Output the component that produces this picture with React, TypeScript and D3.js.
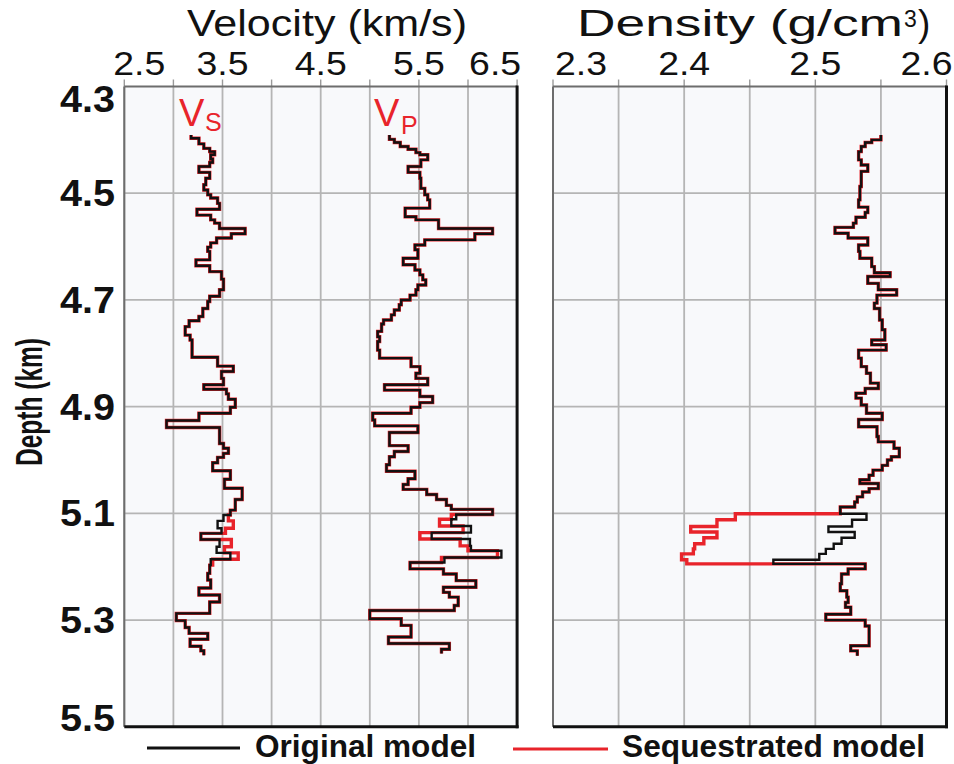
import React from 'react';
import * as d3 from 'd3';

// Depth axis (km)
const depthTicks = [4.3, 4.5, 4.7, 4.9, 5.1, 5.3, 5.5];
const velocityTicks = [2.5, 3.5, 4.5, 5.5, 6.5];
const velocityGrid = [2.5, 3.0, 3.5, 4.0, 4.5, 5.0, 5.5, 6.0, 6.5];
const densityTicks = [2.3, 2.4, 2.5, 2.6];
const densityGrid = [2.3, 2.35, 2.4, 2.45, 2.5, 2.55, 2.6];

// Shear velocity: layer tops (km), last entry is the base of the log
const vsDepth = [
  4.391, 4.397, 4.4075, 4.416, 4.422, 4.428, 4.436, 4.4425, 4.45, 4.461,
  4.472, 4.484, 4.494, 4.503, 4.509, 4.519, 4.53, 4.541, 4.55, 4.556,
  4.566, 4.576, 4.584, 4.593, 4.601, 4.609, 4.625, 4.636, 4.647, 4.661,
  4.681, 4.693, 4.703, 4.716, 4.731, 4.739, 4.75, 4.766, 4.775, 4.8075,
  4.824, 4.834, 4.847, 4.859, 4.8675, 4.876, 4.886, 4.901,
  4.9125, 4.926, 4.939, 4.969, 4.978, 4.9875, 4.995, 5.005, 5.02, 5.036,
  5.053, 5.074, 5.094, 5.103, 5.114, 5.128, 5.1375, 5.149, 5.1625, 5.174,
  5.186, 5.197, 5.2125, 5.225, 5.24, 5.253, 5.266, 5.2875, 5.301, 5.314,
  5.325, 5.336, 5.349, 5.3575, 5.366,
];
const vsOriginal = [
  3.18, 3.26, 3.31, 3.37, 3.42, 3.38, 3.40, 3.37, 3.26, 3.37,
  3.33, 3.31, 3.35, 3.38, 3.45, 3.47, 3.24, 3.38, 3.42, 3.47,
  3.73, 3.59, 3.44, 3.38, 3.35, 3.37, 3.23, 3.37, 3.49, 3.51,
  3.47, 3.37, 3.35, 3.30, 3.26, 3.16, 3.12, 3.17, 3.19, 3.45,
  3.61, 3.49, 3.51, 3.31, 3.54, 3.56, 3.63, 3.58,
  3.26, 2.93, 3.47, 3.51, 3.56, 3.51, 3.45, 3.40, 3.58, 3.52,
  3.70, 3.63, 3.58, 3.51, 3.45, 3.49, 3.28, 3.47, 3.44, 3.58,
  3.38, 3.37, 3.35, 3.38, 3.26, 3.47, 3.37, 3.03, 3.12, 3.16,
  3.35, 3.17, 3.28, 3.31,
];
const vsSequestrated = [
  3.18, 3.26, 3.31, 3.37, 3.42, 3.38, 3.40, 3.37, 3.26, 3.37,
  3.33, 3.31, 3.35, 3.38, 3.45, 3.47, 3.24, 3.38, 3.42, 3.47,
  3.73, 3.59, 3.44, 3.38, 3.35, 3.37, 3.23, 3.37, 3.49, 3.51,
  3.47, 3.37, 3.35, 3.30, 3.26, 3.16, 3.12, 3.17, 3.19, 3.45,
  3.61, 3.49, 3.51, 3.31, 3.54, 3.56, 3.63, 3.58,
  3.26, 2.93, 3.47, 3.51, 3.56, 3.51, 3.45, 3.40, 3.58, 3.52,
  3.70, 3.63, 3.58, 3.56, 3.61, 3.53, 3.28, 3.59, 3.52, 3.66,
  3.40, 3.37, 3.35, 3.38, 3.26, 3.47, 3.37, 3.03, 3.12, 3.16,
  3.35, 3.17, 3.28, 3.31,
];

// Compressional velocity
const vpDepth = [
  4.391, 4.399, 4.405, 4.4125, 4.4175, 4.424, 4.428, 4.4375, 4.45, 4.461,
  4.472, 4.491, 4.503, 4.5125, 4.528, 4.544, 4.55, 4.566, 4.576, 4.5875,
  4.597, 4.606, 4.622, 4.634, 4.644, 4.653, 4.6625, 4.672, 4.681, 4.691,
  4.70, 4.709, 4.719, 4.728, 4.7375, 4.745, 4.759, 4.769, 4.778, 4.794,
  4.809, 4.825, 4.8375, 4.847, 4.859, 4.869, 4.881, 4.8925, 4.901, 4.9125,
  4.925, 4.936, 4.9485, 4.973, 4.984, 4.994, 5.009, 5.021, 5.035, 5.046,
  5.055, 5.0646, 5.074, 5.085, 5.0925, 5.102, 5.111, 5.1236, 5.136, 5.148,
  5.161, 5.17, 5.1826, 5.192, 5.204, 5.2137, 5.226, 5.2385, 5.248, 5.257,
  5.2727, 5.282, 5.2975, 5.31, 5.3317, 5.344, 5.3546, 5.3627,
];
const vpOriginal = [
  5.20, 5.25, 5.31, 5.39, 5.47, 5.51, 5.59, 5.52, 5.39, 5.51,
  5.52, 5.56, 5.59, 5.61, 5.36, 5.47, 5.70, 6.25, 6.07, 5.56,
  5.46, 5.49, 5.34, 5.46, 5.51, 5.54, 5.57, 5.49, 5.47, 5.41,
  5.32, 5.30, 5.25, 5.22, 5.14, 5.12, 5.08, 5.10, 5.08, 5.10,
  5.42, 5.51, 5.47, 5.59, 5.15, 5.51, 5.64, 5.51, 5.42, 5.03,
  5.05, 5.49, 5.20, 5.39, 5.25, 5.20, 5.17, 5.46, 5.39, 5.34,
  5.58, 5.68, 5.78, 5.83, 6.25, 5.88, 5.83, 6.03, 5.63, 6.02,
  6.03, 6.34, 5.76, 5.41, 5.75, 5.88, 6.08, 5.75, 5.81, 5.90,
  5.86, 5.00, 5.32, 5.42, 5.19, 5.81, 5.73,
];
const vpSequestrated = [
  5.20, 5.25, 5.31, 5.39, 5.47, 5.51, 5.59, 5.52, 5.39, 5.51,
  5.52, 5.56, 5.59, 5.61, 5.36, 5.47, 5.70, 6.25, 6.07, 5.56,
  5.46, 5.49, 5.34, 5.46, 5.51, 5.54, 5.57, 5.49, 5.47, 5.41,
  5.32, 5.30, 5.25, 5.22, 5.14, 5.12, 5.08, 5.10, 5.08, 5.10,
  5.42, 5.51, 5.47, 5.59, 5.15, 5.51, 5.64, 5.51, 5.42, 5.03,
  5.05, 5.49, 5.20, 5.39, 5.25, 5.20, 5.17, 5.46, 5.39, 5.34,
  5.58, 5.68, 5.78, 5.83, 6.25, 5.83, 5.71, 5.95, 5.51, 5.92,
  6.00, 6.30, 5.73, 5.41, 5.75, 5.88, 6.08, 5.75, 5.81, 5.90,
  5.86, 5.00, 5.32, 5.42, 5.19, 5.81, 5.73,
];

// Bulk density (g/cm3)
const rhoDepth = [
  4.391, 4.40, 4.405, 4.4125, 4.422, 4.4375, 4.447, 4.459, 4.4875, 4.5125,
  4.526, 4.536, 4.545, 4.556, 4.564, 4.575, 4.584, 4.597, 4.609, 4.622,
  4.6375, 4.649, 4.656, 4.669, 4.681, 4.691, 4.706, 4.716, 4.7375, 4.756,
  4.775, 4.784, 4.794, 4.809, 4.825, 4.8375, 4.856, 4.866, 4.875, 4.884,
  4.897, 4.9125, 4.924, 4.9376, 4.956, 4.966, 4.978, 4.994, 5.0, 5.01,
  5.019, 5.0285, 5.037, 5.044, 5.0536, 5.06, 5.069, 5.0787, 5.088, 5.1006,
  5.112, 5.1245, 5.135, 5.1458, 5.157, 5.1665, 5.176, 5.187, 5.1947, 5.204,
  5.2135, 5.232, 5.245, 5.257, 5.267, 5.276, 5.289, 5.30, 5.311, 5.348,
  5.3577, 5.367,
];
const rhoOriginal = [
  2.550, 2.543, 2.538, 2.535, 2.533, 2.535, 2.540, 2.535, 2.534, 2.533,
  2.540, 2.538, 2.531, 2.529, 2.515, 2.525, 2.540, 2.533, 2.534, 2.543,
  2.545, 2.557, 2.540, 2.548, 2.562, 2.547, 2.545, 2.549, 2.551, 2.553,
  2.543, 2.554, 2.533, 2.535, 2.539, 2.542, 2.548, 2.538, 2.531, 2.535,
  2.539, 2.551, 2.533, 2.547, 2.548, 2.560, 2.564, 2.558, 2.555, 2.551,
  2.544, 2.541, 2.534, 2.548, 2.541, 2.536, 2.532, 2.530, 2.519, 2.539,
  2.528, 2.510, 2.530, 2.520, 2.514, 2.508, 2.503, 2.468, 2.538, 2.525,
  2.520, 2.519, 2.524, 2.525, 2.523, 2.527, 2.508, 2.538, 2.541, 2.527,
  2.532,
];
const rhoSequestrated = [
  2.550, 2.543, 2.538, 2.535, 2.533, 2.535, 2.540, 2.535, 2.534, 2.533,
  2.540, 2.538, 2.531, 2.529, 2.515, 2.525, 2.540, 2.533, 2.534, 2.543,
  2.545, 2.557, 2.540, 2.548, 2.562, 2.547, 2.545, 2.549, 2.551, 2.553,
  2.543, 2.554, 2.533, 2.535, 2.539, 2.542, 2.548, 2.538, 2.531, 2.535,
  2.539, 2.551, 2.533, 2.547, 2.548, 2.560, 2.564, 2.558, 2.555, 2.551,
  2.544, 2.541, 2.534, 2.548, 2.541, 2.536, 2.532, 2.530, 2.519, 2.439,
  2.425, 2.405, 2.425, 2.415, 2.408, 2.407, 2.398, 2.402, 2.538, 2.525,
  2.520, 2.519, 2.524, 2.525, 2.523, 2.527, 2.508, 2.538, 2.541, 2.527,
  2.532,
];

const FONT = "'Liberation Sans', Arial, Helvetica, sans-serif";
const RED = '#e8242b';
const GRID = '#b5b5b5';

const top = 86.5;
const bottom = 726.8;
const velPanel = { x0: 124.3, x1: 517.1 };
const denPanel = { x0: 553, x1: 946.5 };

const y = d3.scaleLinear().domain([4.3, 5.5]).range([top, bottom]);
const xVel = d3.scaleLinear().domain([2.5, 6.5]).range([velPanel.x0, velPanel.x1]);
const xDen = d3.scaleLinear().domain([2.3, 2.6]).range([denPanel.x0, denPanel.x1]);

// Layered log drawn as a staircase: each value holds down to the next layer top
function stepPath(depths: number[], values: number[], x: d3.ScaleLinear<number, number>) {
  const pts: [number, number][] = values.map((v, i) => [x(v), y(depths[i])]);
  pts.push([x(values[values.length - 1]), y(depths[depths.length - 1])]);
  return d3.line().curve(d3.curveStepBefore)(pts) || '';
}

function Panel({
  x0, x1, scale, grid, ticks, padL, padR,
}: {
  x0: number; x1: number; scale: d3.ScaleLinear<number, number>;
  grid: number[]; ticks: number[]; padL: number; padR: number;
}) {
  const hGrid = depthTicks.slice(1, -1);
  return (
    <g>
      <rect x={x0} y={top} width={x1 - x0} height={bottom - top} fill="#f8f9fb" />
      {grid.map((g) => (
        <g key={'v' + g}>
          <line x1={scale(g)} x2={scale(g)} y1={top} y2={bottom} stroke={GRID} strokeWidth={1.8} />
          <line x1={scale(g)} x2={scale(g)} y1={top - 7} y2={top} stroke="#9a9a9a" strokeWidth={1.4} />
        </g>
      ))}
      {hGrid.map((d) => (
        <line key={'h' + d} x1={x0} x2={x1} y1={y(d)} y2={y(d)} stroke={GRID} strokeWidth={1.8} />
      ))}
      {ticks.map((t) => {
        const cx = Math.min(Math.max(scale(t), x0 + padL), x1 - padR);
        return (
          <text key={'t' + t} x={cx} y={75} textAnchor="middle" fontSize={34} fontFamily={FONT} fill="#111"
            textLength={52} lengthAdjust="spacingAndGlyphs">
            {t.toFixed(1)}
          </text>
        );
      })}
      <line x1={x0} x2={x1} y1={top} y2={top} stroke="#6d6d6d" strokeWidth={2} />
      <line x1={x0} x2={x0} y1={top} y2={bottom} stroke="#6d6d6d" strokeWidth={2} />
      <line x1={x1} x2={x1} y1={top - 1} y2={bottom + 1.5} stroke="#111" strokeWidth={3} />
      <line x1={x0} x2={x1 + 1.5} y1={bottom} y2={bottom} stroke="#111" strokeWidth={3} />
    </g>
  );
}

function Log({ depths, orig, seq, x }: { depths: number[]; orig: number[]; seq: number[]; x: d3.ScaleLinear<number, number> }) {
  return (
    <g fill="none" strokeLinejoin="miter">
      <path d={stepPath(depths, seq, x)} stroke={RED} strokeWidth={3.4} />
      <path d={stepPath(depths, orig, x)} stroke="#111" strokeWidth={2.4} />
    </g>
  );
}

export default function App() {
  return (
    <svg width={954} height={764} style={{ position: 'absolute', left: 0, top: 0, background: '#fff' }}>
      {/* titles */}
      <text x={187} y={36} fontSize={37} fontFamily={FONT} fill="#111" textLength={280} lengthAdjust="spacingAndGlyphs">
        Velocity (km/s)
      </text>
      <text x={577} y={36} fontSize={37} fontFamily={FONT} fill="#111" textLength={326} lengthAdjust="spacingAndGlyphs">
        Density (g/cm
      </text>
      <text x={904} y={27} fontSize={23} fontFamily={FONT} fill="#111">3</text>
      <text x={918} y={36} fontSize={37} fontFamily={FONT} fill="#111">)</text>

      <Panel x0={velPanel.x0} x1={velPanel.x1} scale={xVel} grid={velocityGrid} ticks={velocityTicks} padL={15} padR={22} />
      <Panel x0={denPanel.x0} x1={denPanel.x1} scale={xDen} grid={densityGrid} ticks={densityTicks} padL={28} padR={20} />

      {/* depth labels */}
      {depthTicks.map((d) => {
        const cy = Math.min(Math.max(y(d), top + 12), bottom - 9);
        return (
          <text key={d} x={115} y={cy + 13} textAnchor="end" fontSize={36} fontWeight="bold" fontFamily={FONT} fill="#111"
            textLength={55} lengthAdjust="spacingAndGlyphs">
            {d.toFixed(1)}
          </text>
        );
      })}
      <text
        transform="translate(42,402) rotate(-90)"
        textAnchor="middle"
        fontSize={37}
        fontWeight="bold"
        fontFamily={FONT}
        fill="#111"
        textLength={128}
        lengthAdjust="spacingAndGlyphs"
      >
        Depth (km)
      </text>

      {/* log curves */}
      <Log depths={vsDepth} orig={vsOriginal} seq={vsSequestrated} x={xVel} />
      <Log depths={vpDepth} orig={vpOriginal} seq={vpSequestrated} x={xVel} />
      <Log depths={rhoDepth} orig={rhoOriginal} seq={rhoSequestrated} x={xDen} />

      {/* curve labels */}
      <text x={179} y={126} fontSize={38} fontFamily={FONT} fill={RED}>V</text>
      <text x={205} y={131} fontSize={25} fontFamily={FONT} fill={RED}>S</text>
      <text x={374} y={126} fontSize={38} fontFamily={FONT} fill={RED}>V</text>
      <text x={401} y={134} fontSize={25} fontFamily={FONT} fill={RED}>P</text>

      {/* legend */}
      <line x1={147} x2={240} y1={748} y2={748} stroke="#111" strokeWidth={3} />
      <text x={255} y={757} fontSize={31} fontWeight="bold" fontFamily={FONT} fill="#111" textLength={221} lengthAdjust="spacingAndGlyphs">
        Original model
      </text>
      <line x1={513} x2={608} y1={749} y2={749} stroke={RED} strokeWidth={3} />
      <text x={622} y={757} fontSize={31} fontWeight="bold" fontFamily={FONT} fill="#111" textLength={303} lengthAdjust="spacingAndGlyphs">
        Sequestrated model
      </text>
    </svg>
  );
}
